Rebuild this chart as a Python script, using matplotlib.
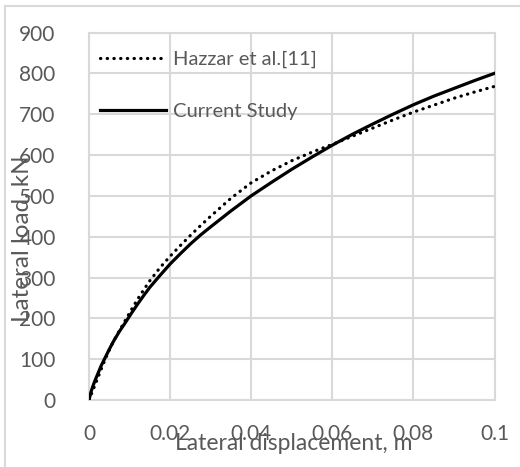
import matplotlib.pyplot as plt
from matplotlib.lines import Line2D

# Load-displacement curves
disp_current = [0, 0.0005, 0.001, 0.0015, 0.002, 0.003, 0.004, 0.005, 0.006, 0.0075,
                0.009, 0.0105, 0.012, 0.0135, 0.015, 0.0175, 0.02, 0.0225, 0.025,
                0.0275, 0.03, 0.035, 0.04, 0.045, 0.05, 0.055, 0.06, 0.065, 0.07,
                0.075, 0.08, 0.085, 0.09, 0.095, 0.1]
load_current = [0, 20, 35, 48, 60, 84, 104, 124, 143, 168,
                190, 213, 235, 256, 276, 305, 333, 358, 382,
                404, 424, 463, 500, 533, 565, 595, 624, 651, 676,
                700, 723, 744, 763, 782, 800]

disp_hazzar = [0, 0.0005, 0.001, 0.0015, 0.002, 0.003, 0.004, 0.005, 0.006, 0.0075,
               0.009, 0.0105, 0.012, 0.0135, 0.015, 0.0175, 0.02, 0.0225, 0.025,
               0.0275, 0.03, 0.035, 0.04, 0.045, 0.05, 0.055, 0.06, 0.065, 0.07,
               0.075, 0.08, 0.085, 0.09, 0.095, 0.1]
load_hazzar = [0, 12, 25, 37, 50, 75, 100, 122, 143, 170,
               196, 222, 247, 270, 292, 324, 352, 378, 403,
               427, 450, 494, 532, 561, 586, 607, 626, 646, 666,
               686, 705, 722, 739, 754, 768]

x_ticks = [0, 0.02, 0.04, 0.06, 0.08, 0.1]
x_ticklabels = ["0", "0.02", "0.04", "0.06", "0.08", "0.1"]
y_ticks = list(range(0, 901, 100))

plt.rcParams['font.family'] = ['Lato', 'DejaVu Sans']

fig = plt.figure(figsize=(5.2, 4.67), dpi=100)
ax = fig.add_axes([89/520, 1-400/467, (494.5-89)/520, (400-32.5)/467])

grid_c = "#d9d9d9"
txt_c = "#595959"
dots = (0, (0.1, 2.0))

ax.plot(disp_hazzar, load_hazzar, color="black", lw=2.3,
        linestyle=dots, dash_capstyle="round", zorder=3)
ax.plot(disp_current, load_current, color="black", lw=2.3, zorder=4,
        solid_joinstyle="round")

ax.set_xlim(0, 0.1)
ax.set_ylim(0, 900)
ax.set_xticks(x_ticks)
ax.set_xticklabels(x_ticklabels)
ax.set_yticks(y_ticks)
ax.grid(True, color=grid_c, lw=1.5)
ax.set_axisbelow(True)
for s in ax.spines.values():
    s.set_color(grid_c)
    s.set_linewidth(1.5)
ax.tick_params(length=0, labelsize=15, colors=txt_c)
ax.tick_params(axis="y", pad=24)
ax.tick_params(axis="x", pad=17)

# Axis titles sit over the tick labels
fig.text(294/520, 1-444/467, "Lateral displacement, m", ha="center", va="center",
         fontsize=16.5, color=txt_c)
fig.text(22/520, 1-239/467, "Lateral load, kN", ha="center", va="center",
         rotation=90, fontsize=17.5, color=txt_c)

# Legend drawn without frame
handles = [Line2D([], [], color="black", lw=2.3, linestyle=dots,
                  dash_capstyle="round"),
           Line2D([], [], color="black", lw=2.3)]
ax.legend(handles, ["Hazzar et al.[11]", "Current Study"], loc="upper left",
          bbox_to_anchor=(-0.018, 1.0), frameon=False, fontsize=14.5,
          labelcolor=txt_c, handlelength=3.3, handletextpad=0.35,
          labelspacing=1.75)

# Chart area border (top and left visible)
fig.add_artist(Line2D([5/520, 1], [1-6/467, 1-6/467], color=grid_c, lw=1.5))
fig.add_artist(Line2D([5/520, 5/520], [0, 1-6/467], color=grid_c, lw=1.5))

fig.savefig("out.png", dpi=100)
